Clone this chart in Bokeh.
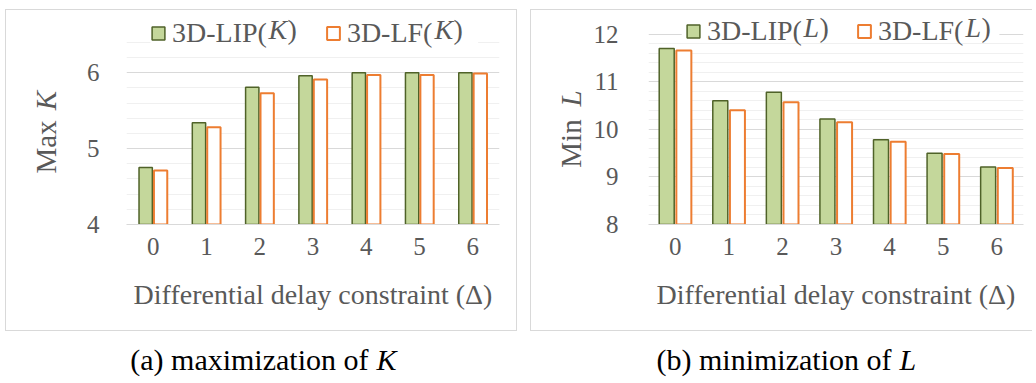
from bokeh.plotting import figure
from bokeh.models import (FactorRange, Range1d, FixedTicker, Legend, LegendItem, Label,
                          ColumnDataSource, Spacer, BoxAnnotation)
from bokeh.transform import dodge
from bokeh.layouts import row, column
from bokeh.embed import file_html
from bokeh.resources import INLINE

# ---------------- data ----------------
deltas = ["0", "1", "2", "3", "4", "5", "6"]
max_k_lip = [4.75, 5.34, 5.81, 5.96, 6.00, 6.00, 6.00]
max_k_lf = [4.71, 5.28, 5.73, 5.91, 5.97, 5.97, 5.99]
min_l_lip = [11.70, 10.60, 10.78, 10.22, 9.78, 9.50, 9.21]
min_l_lf = [11.66, 10.40, 10.57, 10.15, 9.74, 9.48, 9.19]

k_major = [4, 5, 6]
k_minor = [4.2, 4.4, 4.6, 4.8, 5.2, 5.4, 5.6, 5.8, 6.2, 6.4]
l_major = [8, 9, 10, 11, 12]
l_minor = [8.2, 8.4, 8.6, 8.8, 9.2, 9.4, 9.6, 9.8, 10.2, 10.4, 10.6, 10.8,
           11.2, 11.4, 11.6, 11.8]

x_title = "Differential delay constraint (\u0394)"

SERIF = "Liberation Serif"
TXT = "#595959"
GREEN_FILL = "#c4d79b"
GREEN_LINE = "#4f6228"
ORANGE = "#ed7d31"
GRID = "#d9d9d9"
MINOR = "#f0f0f0"
BOX = "1px solid #d9d9d9"
H = 322          # canvas height of the chart boxes
LEG_FS = 28      # legend font size (px)


def blank(f):
    f.grid.visible = False
    f.outline_line_color = None
    f.background_fill_color = "white"
    f.border_fill_color = "white"


def ylab_piece(width, height, mb_left, mb_top, mb_bottom, text, style, css):
    """A narrow figure whose only content is a rotated y-axis title."""
    f = figure(width=width, height=height, x_range=Range1d(0, 1), y_range=Range1d(0, 1),
               min_border_left=mb_left, min_border_right=0,
               min_border_top=mb_top, min_border_bottom=mb_bottom,
               x_axis_location=None, y_axis_location="left",
               output_backend="svg", toolbar_location=None)
    blank(f)
    f.styles = css
    ax = f.yaxis[0]
    ax.ticker = FixedTicker(ticks=[])
    ax.axis_line_color = None
    ax.major_tick_line_color = None
    ax.minor_tick_line_color = None
    ax.major_label_standoff = 0
    ax.axis_label = text
    ax.axis_label_standoff = 0
    ax.axis_label_text_font = SERIF
    ax.axis_label_text_font_size = "29px"
    ax.axis_label_text_font_style = style
    ax.axis_label_text_color = TXT
    return f


def panel(width, mb_left, mb_right, y0, y1, major, minor, lip, lf,
          bar_w, off, stems, var, leg_loc, leg_spacing, var_pos, leg_dy,
          bg_box, ystandoff, css):
    src = ColumnDataSource(dict(d=deltas, lip=lip, lf=lf))
    p = figure(x_range=FactorRange(factors=deltas, range_padding=0, factor_padding=0),
               y_range=Range1d(y0, y1),
               width=width, height=H,
               min_border_left=mb_left, min_border_right=mb_right,
               min_border_top=0, min_border_bottom=108,
               output_backend="svg", toolbar_location=None)
    p.styles = css
    p.background_fill_color = "white"
    p.border_fill_color = "white"
    p.outline_line_color = None

    p.yaxis.ticker = FixedTicker(ticks=major, minor_ticks=minor)
    p.ygrid.ticker = p.yaxis.ticker
    p.ygrid.grid_line_color = GRID
    p.ygrid.minor_grid_line_color = MINOR
    p.xgrid.grid_line_color = None

    # white patch behind the legend (hides the grid lines there, as in the original)
    left, right, bottom, top = bg_box
    p.add_layout(BoxAnnotation(left=left, right=right, bottom=bottom, top=top,
                               fill_color="white", fill_alpha=1.0, line_color=None,
                               level="underlay"))

    r1 = p.vbar(x=dodge("d", -off, range=p.x_range), top="lip", bottom=y0, width=bar_w,
                source=src, fill_color=GREEN_FILL, line_color=GREEN_LINE, line_width=1.5)
    r2 = p.vbar(x=dodge("d", off, range=p.x_range), top="lf", bottom=y0, width=bar_w,
                source=src, fill_color="white", line_color=ORANGE, line_width=2)

    for ax in (p.xaxis, p.yaxis):
        ax.major_tick_line_color = None
        ax.minor_tick_line_color = None
        ax.major_label_text_font = SERIF
        ax.major_label_text_font_size = "25px"
        ax.major_label_text_color = TXT
    p.yaxis.axis_line_color = None
    p.yaxis.major_label_standoff = ystandoff
    p.xaxis.axis_line_color = GRID
    p.xaxis.major_label_standoff = 7
    p.xaxis.axis_label = x_title
    p.xaxis.axis_label_text_font = SERIF
    p.xaxis.axis_label_text_font_size = "28px"
    p.xaxis.axis_label_text_font_style = "normal"
    p.xaxis.axis_label_text_color = TXT
    p.xaxis.axis_label_standoff = 21

    legend = Legend(items=[LegendItem(label=stems[0], renderers=[r1]),
                           LegendItem(label=stems[1], renderers=[r2])],
                    orientation="horizontal", location=leg_loc,
                    label_text_font=SERIF, label_text_font_size="%dpx" % LEG_FS,
                    label_text_color=TXT, glyph_width=16, glyph_height=16,
                    label_standoff=6, spacing=leg_spacing, padding=4, margin=0,
                    border_line_color=None, background_fill_alpha=0.0)
    p.add_layout(legend)

    # italic variable + closing parenthesis of each legend entry
    for xk, xp in var_pos:
        p.add_layout(Label(x=0, y=y0, x_offset=xk, y_offset=leg_dy, text=var,
                           text_align="left", text_baseline="middle", text_font=SERIF,
                           text_font_size="%dpx" % LEG_FS, text_font_style="italic",
                           text_color=TXT))
        p.add_layout(Label(x=0, y=y0, x_offset=xp, y_offset=leg_dy, text=")",
                           text_align="left", text_baseline="middle", text_font=SERIF,
                           text_font_size="%dpx" % LEG_FS, text_color=TXT))
    return p


# ---- left chart (box page x 5..519, y 9..333; plot frame x 127..500, y 10..224)
p1 = panel(442, 51, 18, 4, 6.82, k_major, k_minor, max_k_lip, max_k_lf,
           0.25, 0.14, ("3D-LIP(", "3D-LF("), "K", (24, 175), 58,
           [(142, 161), (308, 327)], 195,
           (0.45, 6.6, 6.347, 6.82), 21,
           {"border-top": BOX, "border-right": BOX, "border-bottom": BOX})
yk1 = ylab_piece(70, 110, 55, 80, 10, "K", "italic",
                 {"border-top": BOX, "border-left": BOX})
ym1 = ylab_piece(70, 212, 55, 0, 157, "Max", "normal",
                 {"border-left": BOX, "border-bottom": BOX})

# ---- right chart (box page x 532..1035, plot frame x 645..1026, y 10..224)
p2 = panel(442, 52, 9, 8, 12.5, l_major, l_minor, min_l_lip, min_l_lf,
           0.28, 0.16, ("3D-LIP(", "3D-LF("), "L", (37, 177), 54,
           [(155, 171), (317, 333)], 197,
           (0.62, 6.55, 11.84, 12.5), 24,
           {"border-top": BOX, "border-bottom": BOX})
yl2 = ylab_piece(60, 110, 55, 78, 12, "L", "italic",
                 {"border-top": BOX, "border-left": BOX})
ym2 = ylab_piece(60, 212, 55, 0, 164, "Min", "normal",
                 {"border-left": BOX, "border-bottom": BOX})


def caption(width, split, main, var):
    c = figure(width=width, height=49, x_range=Range1d(0, width), y_range=Range1d(0, 49),
               min_border=0, x_axis_location=None, y_axis_location=None,
               output_backend="svg", toolbar_location=None)
    blank(c)
    c.add_layout(Label(x=split, y=21, text=main, text_align="right", text_baseline="middle",
                       text_font=SERIF, text_font_size="30px", text_color="black"))
    c.add_layout(Label(x=split, y=21, x_offset=8, text=var, text_align="left",
                       text_baseline="middle", text_font=SERIF, text_font_size="30px",
                       text_font_style="italic", text_color="black"))
    return c


c1 = caption(532, 368, "(a) maximization of", "K")
c2 = caption(503, 359, "(b) minimization of", "L")

layout = column(
    Spacer(height=9),
    row(Spacer(width=5), column(yk1, ym1), p1, Spacer(width=13), column(yl2, ym2), p2),
    row(c1, c2),
)

open("out.html", "w").write(file_html(layout, INLINE))
